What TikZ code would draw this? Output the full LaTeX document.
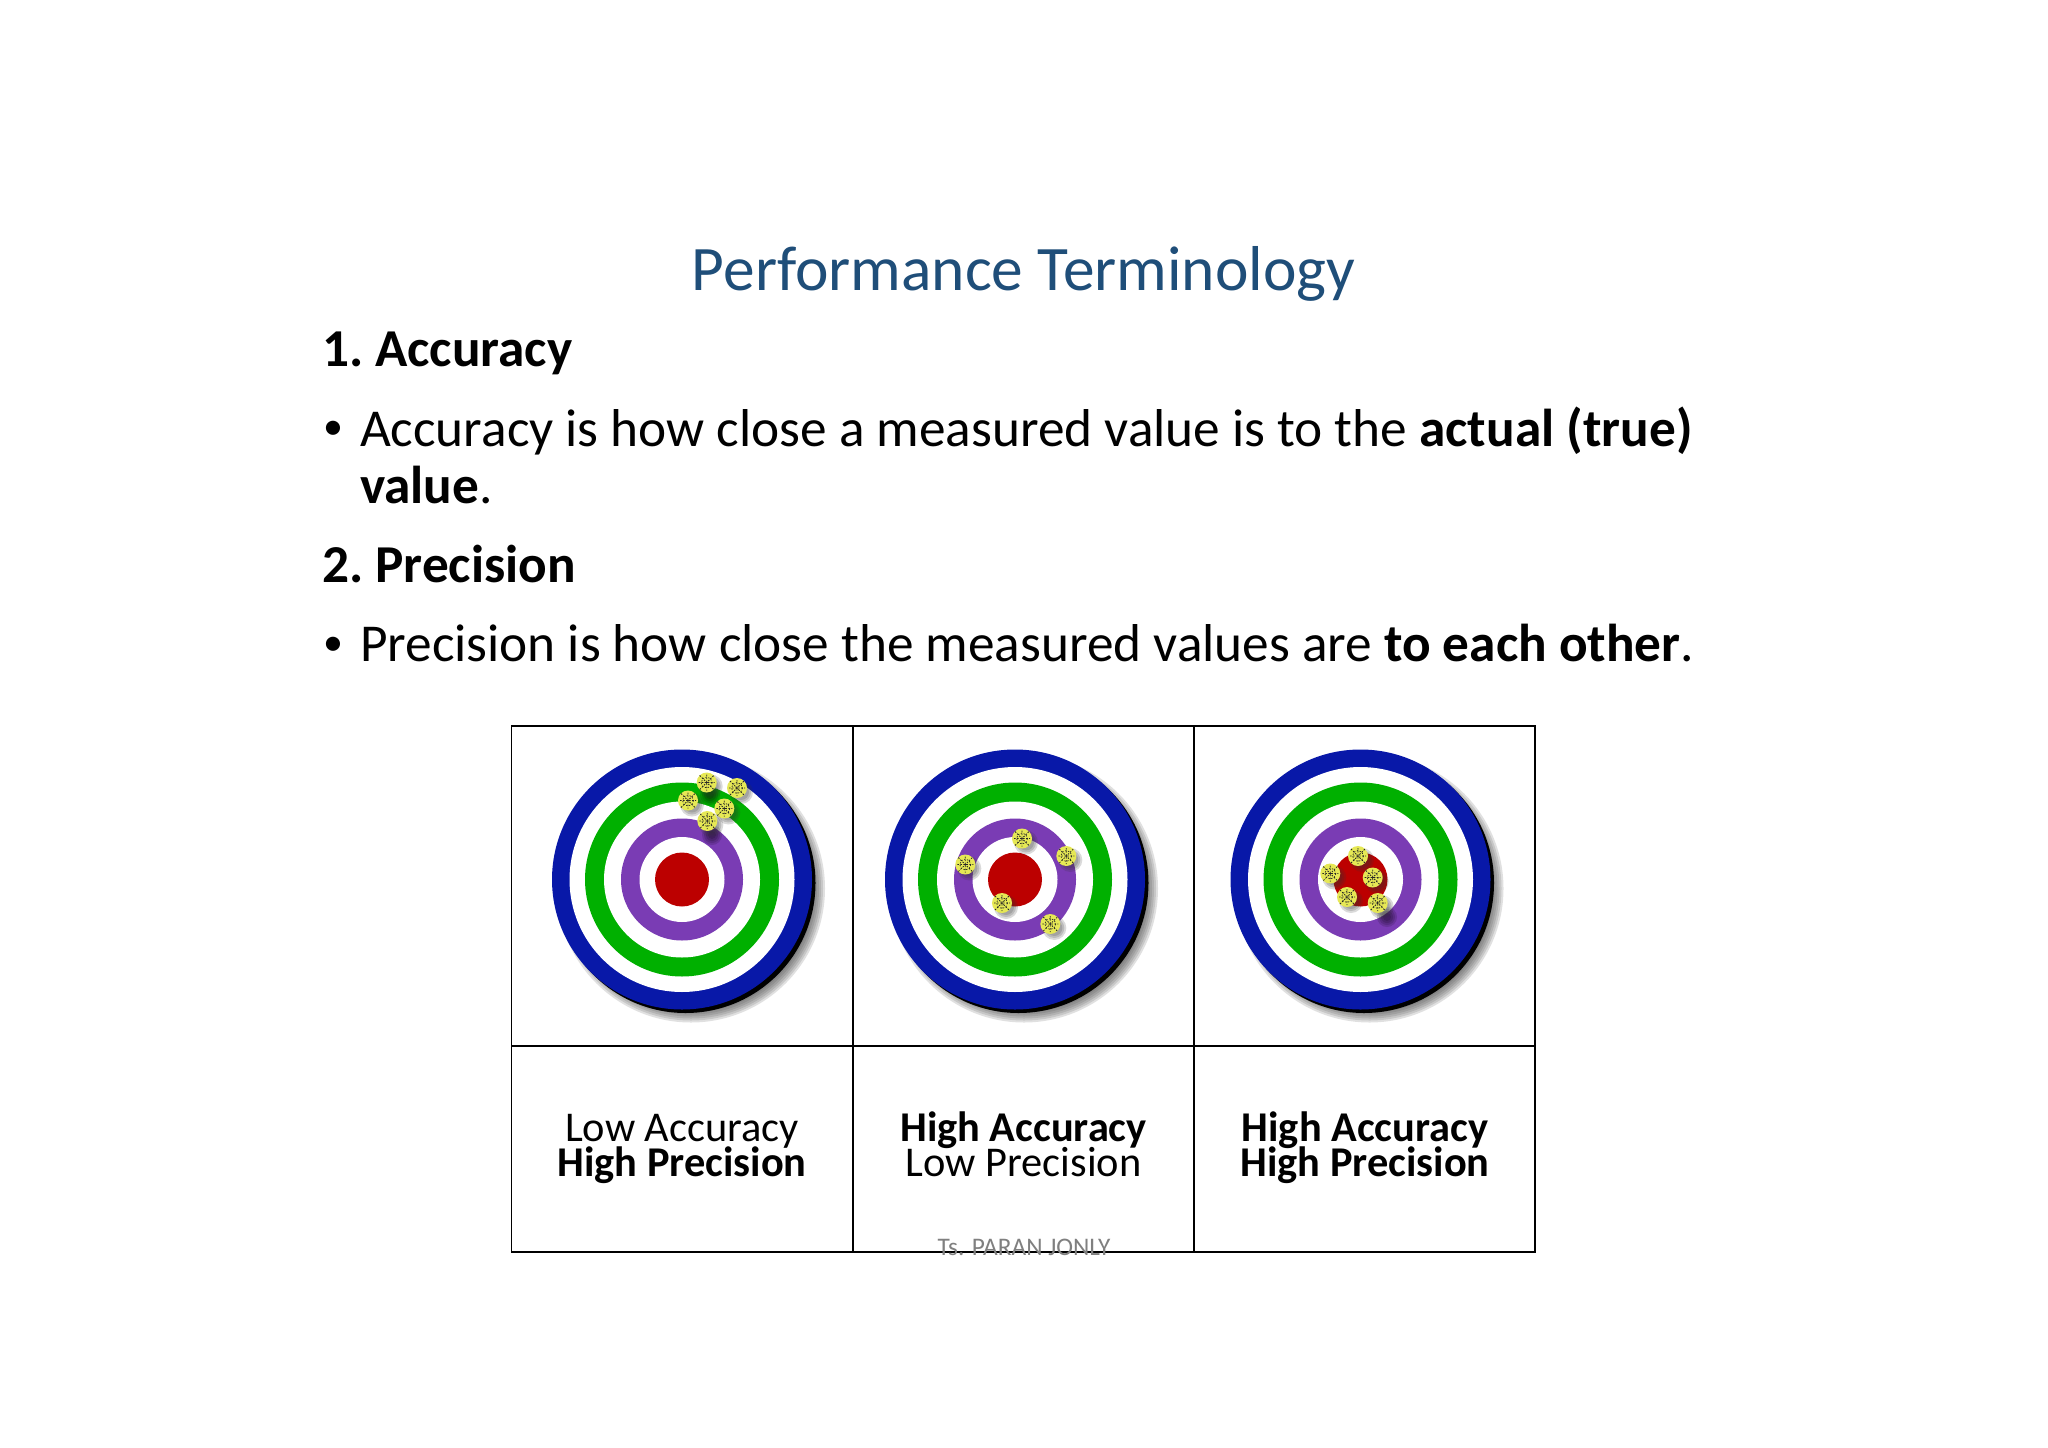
\documentclass[tikz,border=0pt]{standalone}
\usepackage{fontspec}
\setmainfont{Carlito}
\definecolor{tblue}{HTML}{0818A8}
\definecolor{tgreen}{HTML}{00B000}
\definecolor{tpurple}{HTML}{7A3CB4}
\definecolor{tred}{HTML}{BC0000}
\definecolor{titleblue}{HTML}{1F4E79}
\definecolor{dartyellow}{HTML}{E6E855}
\tikzset{
  x=1pt,y=-1pt,
  txt/.style={anchor=base west,inner sep=0pt,outer sep=0pt,font=\fontsize{53.3}{60}\selectfont,text=black},
  head/.style={txt,font=\fontsize{53.3}{60}\bfseries\selectfont},
  bull/.style={txt,font=\fontsize{40}{48}\selectfont},
  cell/.style={anchor=base,inner sep=0pt,outer sep=0pt,font=\fontsize{42.4}{35}\selectfont,align=center,text=black},
  grid/.style={draw=black,line width=1.6pt},
}
\newcommand{\target}[2]{%
  \begin{scope}[shift={(#1,#2)}]
    \foreach \r in {124,126,...,134}{\fill[black!70,opacity=.17] (9,9) circle[radius=\r];}
    \fill[black] (3.5,3.5) circle[radius=130];
    \fill[tblue] (0,0) circle[radius=130];
    \fill[white] (0,0) circle[radius=112.5];
    \fill[tgreen] (0,0) circle[radius=97];
    \fill[white] (0,0) circle[radius=78];
    \fill[tpurple] (0,0) circle[radius=61];
    \fill[white] (0,0) circle[radius=42.5];
    \fill[tred] (0,0) circle[radius=27];
  \end{scope}}
\newcommand{\dart}[2]{%
  \begin{scope}[shift={(#1,#2)}]
    \foreach \r in {8,10,12}{\fill[black!80,opacity=.18] (4,4) circle[radius=\r];}
    \fill[dartyellow] (0,0) circle[radius=10];
    \draw[black!85,line width=.8pt,dash pattern=on 1.6pt off 1.4pt] (-7,-7) -- (7,7) (-7,7) -- (7,-7) (-8,0) -- (8,0) (0,-8) -- (0,8);
    \draw[black!85,line width=.7pt,dash pattern=on 1.4pt off 1.6pt] (0,0) circle[radius=5.5];
  \end{scope}}
\newcommand{\blob}[2]{\foreach \r in {4,6,8,10}{\fill[black,opacity=.14] (#1,#2) circle[radius=\r];}}
\begin{document}
\begin{tikzpicture}
\useasboundingbox (0,0) rectangle (2048,1448);
\fill[white] (0,0) rectangle (2048,1448);

\node[anchor=base,inner sep=0pt,text=titleblue,font=\fontsize{63.4}{70}\selectfont] (title) at (1023.5,290.5) {Performance Terminology};
\node[head] (h1) at (322,366) {1.\hspace{-4pt} Accuracy};
\node[bull] (b1) at (323,439) {•};
\node[txt] (l1) at (360,446) {Accuracy is how close a measured value is to the \textbf{actual (true)}};
\node[txt] (l2) at (360,503.5) {\textbf{value}.};
\node[head] (h2) at (322,582) {2.\hspace{-4pt} Precision};
\node[bull] (b2) at (323,655) {•};
\node[txt] (l3) at (360,661.5) {Precision is how close the measured values are \textbf{to each other}.};

\target{682}{879.5}
\target{1015}{879.5}
\target{1360.5}{879.5}

\blob{712}{835}\blob{710}{795}
\blob{1387}{917}
\foreach \p/\q in {706.7/782.5,737/788,688/800.5,724.3/808.5,707.3/821,
                   1022/838.5,1066.3/856,965.3/864.5,1002/903,1050.3/924,
                   1358/856,1330.3/873.5,1372.7/877.5,1347/897,1377.7/903}{\dart{\p}{\q}}

\draw[grid] (511.5,726) rectangle (1535,1252);
\draw[grid] (511.5,1046) -- (1535,1046);
\draw[grid] (853,726) -- (853,1252);
\draw[grid] (1194,726) -- (1194,1252);

\node[cell] (c1a) at (682,1141) {Low Accuracy};
\node[cell] (c1b) at (682,1176) {\textbf{High Precision}};
\node[cell] (c2a) at (1023.5,1141) {\textbf{High Accuracy}};
\node[cell] (c2b) at (1023.5,1176) {Low Precision};
\node[cell] (c3a) at (1365,1141) {\textbf{High Accuracy}};
\node[cell] (c3b) at (1365,1176) {\textbf{High Precision}};

\node[anchor=base,inner sep=0pt,text=black!50,font=\fontsize{25.3}{28}\selectfont] (foot) at (1024,1255) {Ts. PARAN JONLY};
\end{tikzpicture}
\end{document}
